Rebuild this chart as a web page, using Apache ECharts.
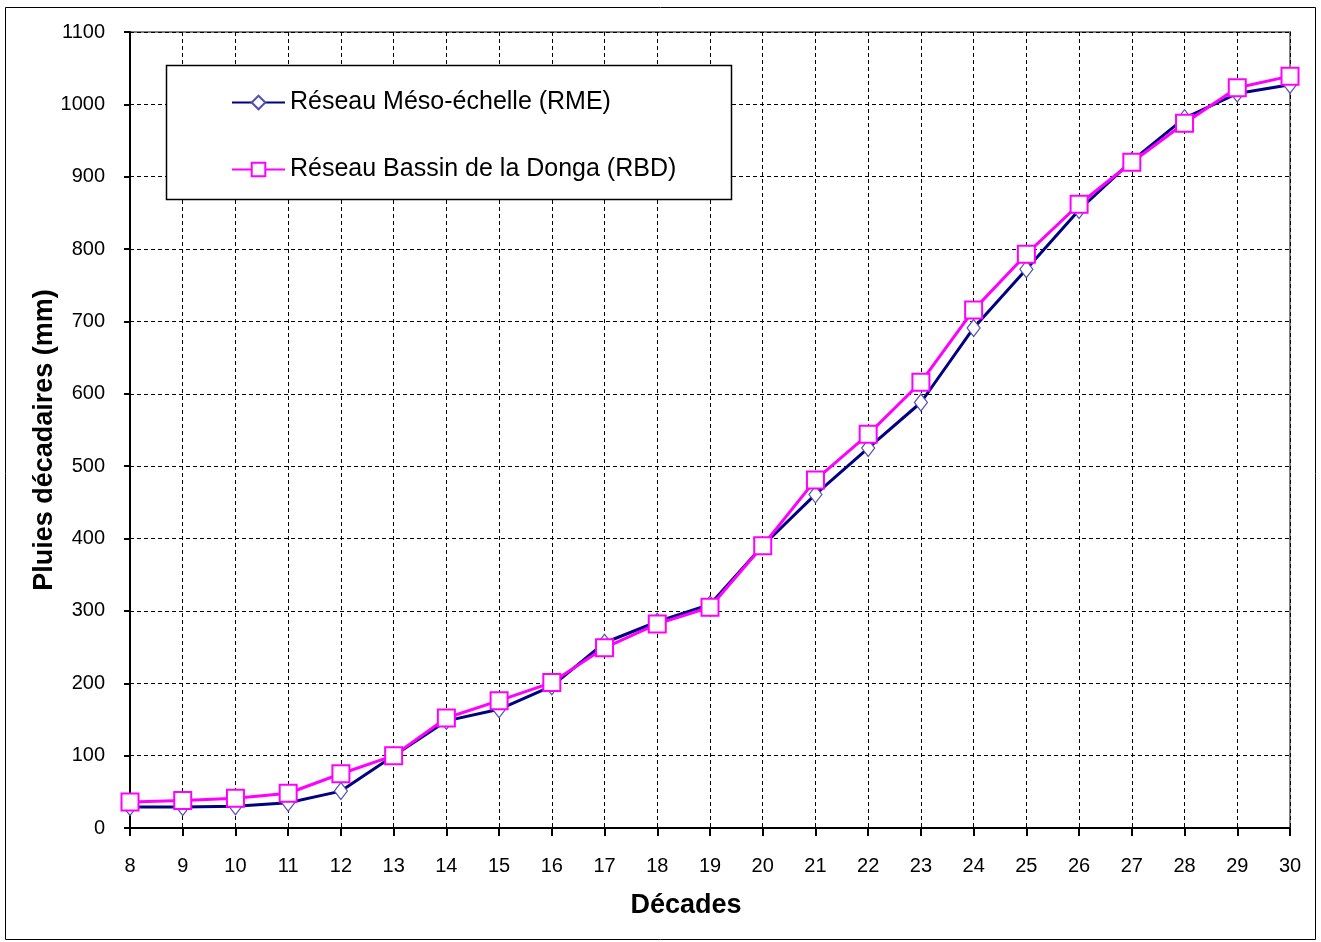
<!DOCTYPE html>
<html><head><meta charset="utf-8">
<script src="https://cdn.jsdelivr.net/npm/echarts@6/dist/echarts.min.js"></script>
<style>html,body{margin:0;padding:0;background:#fff}#c{width:1321px;height:942px}</style>
</head><body><div id="c"></div>
<script>
const decades = ['8','9','10','11','12','13','14','15','16','17','18','19','20','21','22','23','24','25','26','27','28','29','30'];
const rme = [29,29,30,35,51,100,148,164,196,256,285,309,390,461,525,588,691,772,854,922,981,1015,1027];
const rbd = [36,38,41,48,75,100,152,176,201,249,282,305,390,481,544,616,716,793,862,920,974,1023,1039];
const seriesNames = ['Réseau Méso-échelle (RME)','Réseau Bassin de la Donga (RBD)'];
const yTitle = 'Pluies décadaires (mm)';
const xTitle = 'Décades';

const chart = echarts.init(document.getElementById('c'));
const font = 'Liberation Sans, Arial, sans-serif';
chart.setOption({
  animation:false,
  backgroundColor:'#fff',
  textStyle:{fontFamily:font},
  grid:{left:130,right:31,top:32,bottom:114,show:true,borderColor:'#808080',borderWidth:2,containLabel:false},
  graphic:[
    {type:'rect',shape:{x:5.5,y:7.5,width:1310,height:932},style:{fill:'none',stroke:'#000',lineWidth:1},z:1},
    {type:'rect',shape:{x:166.5,y:65.5,width:565,height:134},style:{fill:'#fff',stroke:'#000',lineWidth:1.5},z:10}
  ],
  legend:{
    orient:'vertical',left:226,top:85,itemWidth:53,itemHeight:17,itemGap:42,z:11,
    textStyle:{fontSize:25,color:'#000',fontFamily:font},
    data:seriesNames
  },
  xAxis:{
    type:'category',data:decades,boundaryGap:false,
    name:xTitle,nameLocation:'middle',nameGap:64,nameMoveOverlap:false,
    nameTextStyle:{fontSize:27,fontWeight:'bold',color:'#000',padding:[0,48,0,0]},
    axisLine:{lineStyle:{color:'#000',width:2}},
    axisTick:{show:true,length:8,lineStyle:{color:'#000',width:2},alignWithLabel:true},
    axisLabel:{fontSize:20,color:'#000',margin:28},
    splitLine:{show:true,lineStyle:{color:'#000',type:[4,3],width:1}}
  },
  yAxis:{
    type:'value',min:0,max:1100,interval:100,
    name:yTitle,nameLocation:'middle',nameGap:72,nameMoveOverlap:false,
    nameTextStyle:{fontSize:27,fontWeight:'bold',color:'#000',padding:[0,20,0,0]},
    axisLine:{show:true,lineStyle:{color:'#000',width:2}},
    axisTick:{show:true,length:6,lineStyle:{color:'#000',width:2}},
    axisLabel:{fontSize:20,color:'#000',margin:25,formatter:function(v){return String(v);}},
    splitLine:{show:true,lineStyle:{color:'#000',type:[4,3],width:1}}
  },
  series:[
    {name:seriesNames[0],type:'line',data:rme,symbol:'diamond',symbolSize:[13,17],
     lineStyle:{color:'#000080',width:3},itemStyle:{color:'#fff',borderColor:'#5050b0',borderWidth:1.2},
     color:'#000080',z:3},
    {name:seriesNames[1],type:'line',data:rbd,symbol:'rect',symbolSize:17,
     lineStyle:{color:'#ff00ff',width:3},itemStyle:{color:'#fff',borderColor:'#ff00ff',borderWidth:2},
     color:'#ff00ff',z:4}
  ]
});
</script></body></html>
